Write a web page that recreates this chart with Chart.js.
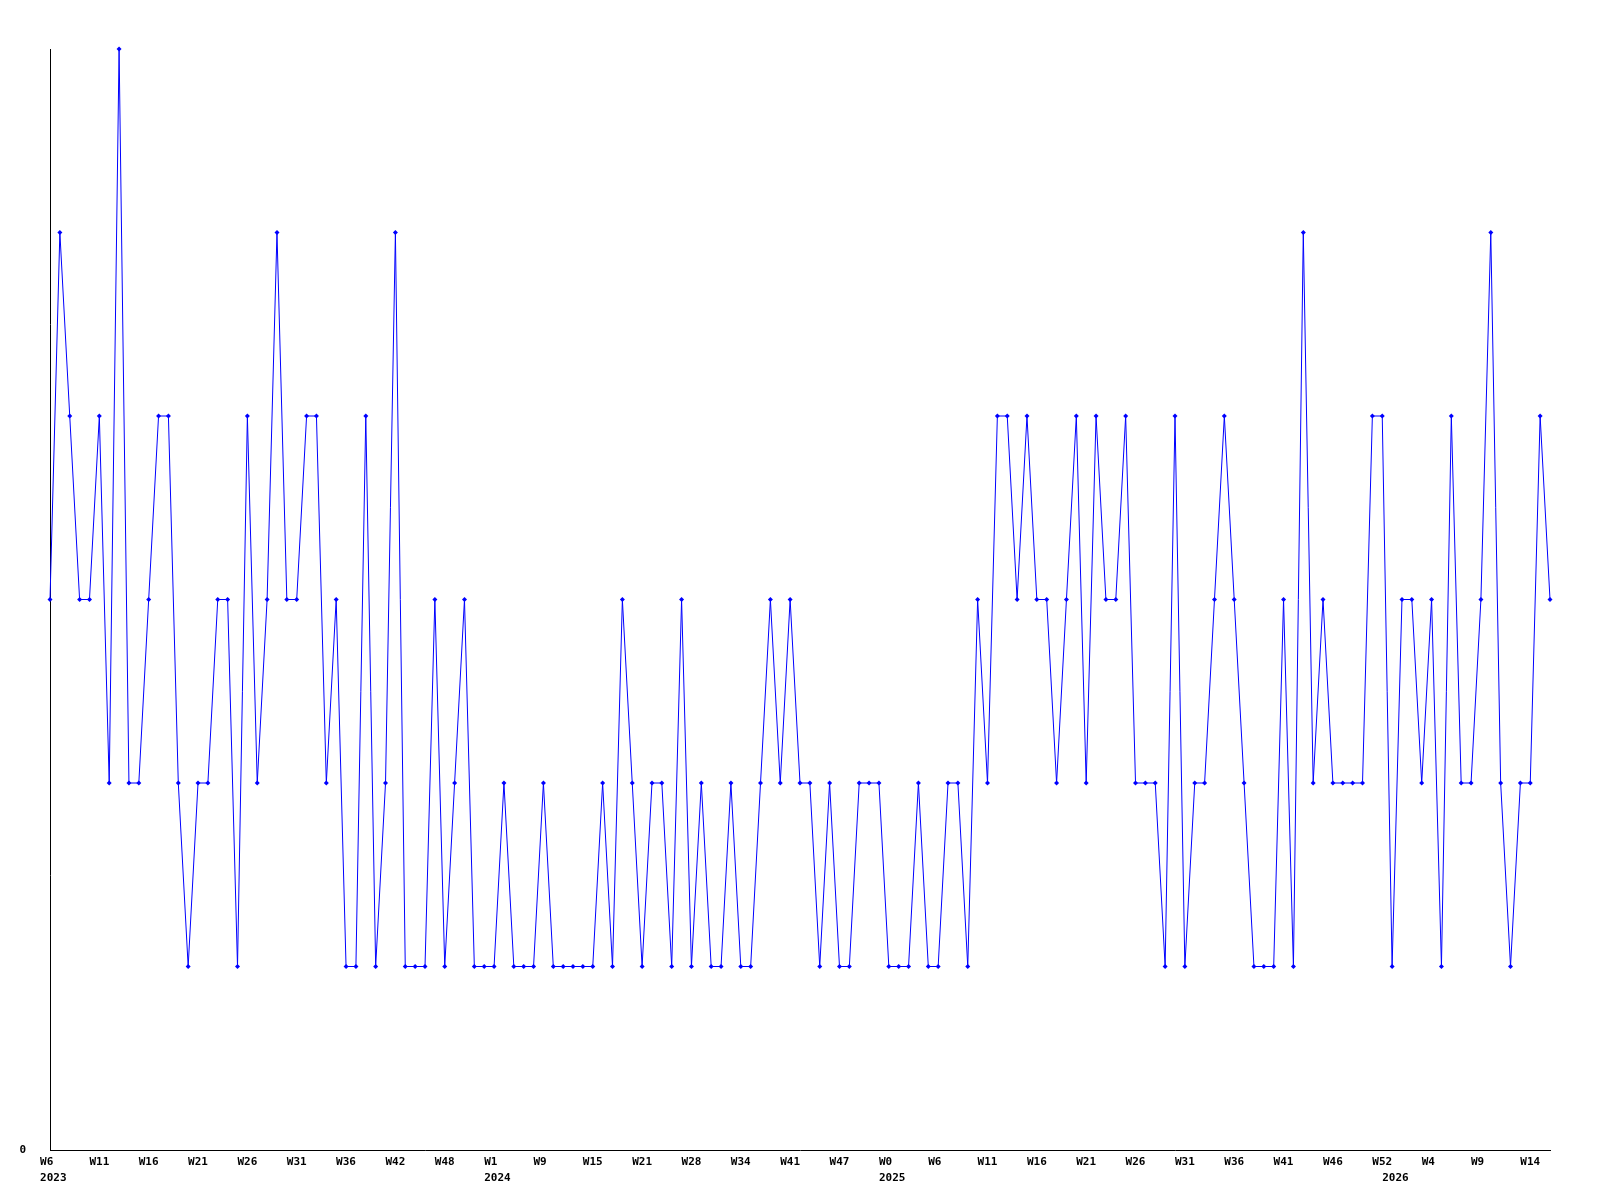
<!DOCTYPE html>
<html>
<head>
<meta charset="utf-8">
<script src="https://cdn.jsdelivr.net/npm/chart.js@4"></script>
<style>
  body { margin:0; background:#fff; }
  canvas { display:block; }
</style>
</head>
<body>
<canvas id="grafico" width="1600" height="1200"></canvas>
<script>
// one value per week, W6 2023 .. W16 2026
const valores = [
  3,5,4,3,3,4,2,6,2,2,
  3,4,4,2,1,2,2,3,3,1,
  4,2,3,5,3,3,4,4,2,3,
  1,1,4,1,2,5,1,1,1,3,
  1,2,3,1,1,1,2,1,1,1,
  2,1,1,1,1,1,2,1,3,2,
  1,2,2,1,3,1,2,1,1,2,
  1,1,2,3,2,3,2,2,1,2,
  1,1,2,2,2,1,1,1,2,1,
  1,2,2,1,3,2,4,4,3,4,
  3,3,2,3,4,2,4,3,3,4,
  2,2,2,1,4,1,2,2,3,4,
  3,2,1,1,1,3,1,5,2,3,
  2,2,2,2,4,4,1,3,3,2,
  3,1,4,2,2,3,5,2,1,2,
  2,4,3
];

// a label every 5th week
const semanas = [
  'W6','W11','W16','W21','W26','W31','W36','W42','W48',
  'W1','W9','W15','W21','W28','W34','W41','W47',
  'W0','W6','W11','W16','W21','W26','W31','W36','W41','W46',
  'W52','W4','W9','W14'
];
// year line under some week labels (leading spaces as in the original)
const anios = { 0:' 2023', 9:' 2024', 17:' 2025', 27:'    2026' };
const yTicks = ['0'];

const cada = 5;
const fuente = { family:'"DejaVu Sans Mono", monospace', size:11, weight:'bold', lineHeight:1.45 };

const ctx = document.getElementById('grafico');
const chart = new Chart(ctx, {
  type:'line',
  data:{
    labels: valores.map((v,i)=>i),
    datasets:[{
      data: valores,
      borderColor:'#0000ff',
      backgroundColor:'#0000ff',
      borderWidth:1,
      pointStyle:'rectRot',
      pointRadius:2.5,
      pointBorderWidth:0,
      tension:0,
      clip:false
    }]
  },
  options:{
    responsive:false,
    animation:false,
    layout:{ padding:{ left:0, top:49, right:50, bottom:0 } },
    plugins:{ legend:{display:false}, tooltip:{enabled:false} },
    scales:{
      x:{
        type:'category',
        offset:false,
        grid:{ display:false, drawTicks:false },
        border:{ display:true, color:'#000', width:1 },
        afterFit: s => { s.height = 50; },
        ticks:{
          autoSkip:false,
          maxRotation:0,
          padding:4,
          color:'#000',
          font:fuente,
          callback:(v,i)=>{
            if(i % cada) return null;
            const k = i / cada;
            if(k >= semanas.length) return null;
            const w = semanas[k].padEnd(3,' ');
            return anios[k] ? [w, anios[k]] : w;
          }
        }
      },
      y:{
        min:0, max:6,
        grid:{ display:false, drawTicks:false },
        border:{ display:true, color:'#000', width:1 },
        afterFit: s => { s.width = 50; },
        ticks:{
          stepSize:6,
          padding:24,
          color:'#000',
          font:fuente,
          callback:v => v === 0 ? yTicks[0] : null
        }
      }
    }
  }
});
</script>
</body>
</html>
